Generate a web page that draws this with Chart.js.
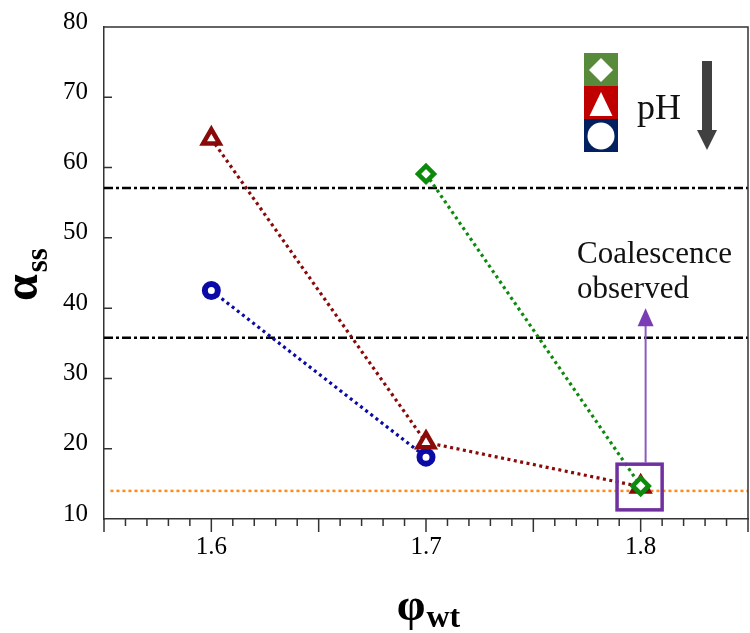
<!DOCTYPE html>
<html>
<head>
<meta charset="utf-8">
<script src="https://cdn.jsdelivr.net/npm/chart.js@4/dist/chart.umd.min.js"></script>
<style>
  html, body { margin: 0; padding: 0; background: #fff; }
  canvas { display: block; }
</style>
</head>
<body>
<canvas id="chart" width="750" height="633"></canvas>
<script>
// Weight fraction of the dispersed phase and the resulting alpha_ss for three pH levels
const phiWt = [1.6, 1.7, 1.8];
const alphaHighPH = [null, 59.1, 14.7];
const alphaMidPH = [64.1, 20.9, 14.6];
const alphaLowPH = [42.5, 18.8, null];

// Axis ticks
const phiTickLabels = [1.6, 1.7, 1.8];
const phiRange = [1.55, 1.85];
const alphaRange = [10, 80];
const alphaStep = 10;

// Horizontal reference levels
const levelUpper = 57.1;
const levelLower = 35.8;
const levelFloor = 14.0;

// Note text
const noteLines = ['Coalescence', 'observed'];

const SERIF = '"Liberation Serif", "Times New Roman", serif';
const GREEN = '#0c8a0c';
const RED = '#8a0a0a';
const BLUE = '#0a0aa6';
const AXIS = '#333333';
const PURPLE = '#7030a0';

const toPoints = ys => phiWt
  .map((x, i) => ({ x: x, y: ys[i] }))
  .filter(p => p.y !== null);

const series = (data, color, style, radius, bw, order) => ({
  data: toPoints(data),
  showLine: true,
  borderColor: color,
  borderWidth: 3.2,
  borderDash: [3, 3.5],
  pointStyle: style,
  pointRadius: radius,
  pointBorderWidth: bw,
  pointBorderColor: color,
  pointBackgroundColor: '#ffffff',
  order: order
});

const level = (y, color, dash, width, x0) => ({
  data: [{ x: x0, y: y }, { x: phiRange[1], y: y }],
  showLine: true,
  borderColor: color,
  borderWidth: width,
  borderDash: dash,
  pointRadius: 0,
  order: 10
});

// keep the plot frame fixed regardless of label overhang
const fixPadding = s => {
  s.paddingLeft = 0;
  s.paddingRight = 0;
  s.paddingTop = 0;
  s.paddingBottom = 0;
};

// Frame, tick marks, annotation, pH key and axis titles
const decorations = {
  id: 'decorations',
  afterDraw(chart) {
    const ctx = chart.ctx;
    const xs = chart.scales.x;
    const ys = chart.scales.y;
    const area = chart.chartArea;
    ctx.save();

    // top and right edges of the frame
    ctx.strokeStyle = AXIS;
    ctx.lineWidth = 1.5;
    ctx.beginPath();
    ctx.moveTo(area.left, area.top);
    ctx.lineTo(area.right, area.top);
    ctx.lineTo(area.right, area.bottom);
    ctx.stroke();

    // x tick marks: long at every 0.05, short at every 0.01
    ctx.beginPath();
    xs.ticks.forEach(t => {
      const px = xs.getPixelForValue(t.value);
      const major = Math.round(t.value * 100) % 5 === 0;
      ctx.moveTo(px, area.bottom);
      ctx.lineTo(px, area.bottom + (major ? 13 : 7));
    });
    // y tick marks point inward
    ys.ticks.forEach(t => {
      if (t.value <= alphaRange[0] || t.value >= alphaRange[1]) return;
      const py = ys.getPixelForValue(t.value);
      ctx.moveTo(area.left, py);
      ctx.lineTo(area.left + 8, py);
    });
    ctx.stroke();

    // box around the coalescing sample and the arrow up to the note
    const bx0 = xs.getPixelForValue(1.789), bx1 = xs.getPixelForValue(1.810);
    const by0 = ys.getPixelForValue(17.8), by1 = ys.getPixelForValue(11.3);
    ctx.strokeStyle = PURPLE;
    ctx.lineWidth = 3.5;
    ctx.strokeRect(bx0, by0, bx1 - bx0, by1 - by0);

    const ax = xs.getPixelForValue(1.8023);
    const tip = ys.getPixelForValue(40.0);
    ctx.strokeStyle = '#8a5cc0';
    ctx.lineWidth = 2;
    ctx.beginPath();
    ctx.moveTo(ax, by0 - 1.5);
    ctx.lineTo(ax, tip + 14);
    ctx.stroke();
    ctx.fillStyle = '#7a3db5';
    ctx.beginPath();
    ctx.moveTo(ax, tip);
    ctx.lineTo(ax + 8, tip + 18);
    ctx.lineTo(ax - 8, tip + 18);
    ctx.closePath();
    ctx.fill();

    ctx.fillStyle = '#111';
    ctx.font = '31px ' + SERIF;
    ctx.textAlign = 'left';
    ctx.textBaseline = 'alphabetic';
    ctx.fillText(noteLines[0], 577, 263);
    ctx.fillText(noteLines[1], 577, 298);

    // pH key: stacked swatches with the marker shapes in white
    const kx = 584, kw = 34;
    const sw = [['#578a3a', 53], ['#c00000', 86], ['#002060', 119]];
    sw.forEach(([c, y]) => { ctx.fillStyle = c; ctx.fillRect(kx, y, kw, 33); });
    const cx = kx + kw / 2;
    ctx.fillStyle = '#ffffff';
    ctx.beginPath();
    ctx.moveTo(cx, 58); ctx.lineTo(cx + 12, 70); ctx.lineTo(cx, 82); ctx.lineTo(cx - 12, 70);
    ctx.closePath(); ctx.fill();
    ctx.beginPath();
    ctx.moveTo(cx, 92); ctx.lineTo(cx + 11.5, 116); ctx.lineTo(cx - 11.5, 116);
    ctx.closePath(); ctx.fill();
    ctx.beginPath();
    ctx.arc(cx, 136, 13.5, 0, Math.PI * 2);
    ctx.fill();

    ctx.fillStyle = '#111';
    ctx.font = '36px ' + SERIF;
    ctx.fillText('pH', 637, 119);

    // downward arrow next to the key
    ctx.fillStyle = '#404040';
    ctx.fillRect(702, 61, 10, 70);
    ctx.beginPath();
    ctx.moveTo(697, 130); ctx.lineTo(717, 130); ctx.lineTo(707, 150);
    ctx.closePath(); ctx.fill();

    // x axis title
    ctx.fillStyle = '#000';
    ctx.font = 'bold 46px ' + SERIF;
    const phiW = ctx.measureText('φ').width;
    ctx.font = 'bold 32px ' + SERIF;
    const wtW = ctx.measureText('wt').width;
    const tx = (area.left + area.right) / 2 - (phiW + wtW) / 2 + 2;
    ctx.font = 'bold 46px ' + SERIF;
    ctx.fillText('φ', tx, 620);
    ctx.font = 'bold 32px ' + SERIF;
    ctx.fillText('wt', tx + phiW + 1, 627);

    // y axis title, reading upward
    ctx.translate(37, 301);
    ctx.rotate(-Math.PI / 2);
    ctx.font = 'bold 48px ' + SERIF;
    const aW = ctx.measureText('α').width;
    ctx.fillText('α', 0, 0);
    ctx.font = 'bold 31px ' + SERIF;
    ctx.fillText('ss', aW + 2, 10);

    ctx.restore();
  }
};

new Chart(document.getElementById('chart'), {
  type: 'scatter',
  data: {
    datasets: [
      series(alphaHighPH, GREEN, 'rectRot', 8, 4.5, 0),
      series(alphaMidPH, RED, 'triangle', 9.5, 4.5, 1),
      series(alphaLowPH, BLUE, 'circle', 6.5, 6, 2),
      level(levelUpper, '#000000', [9, 3, 3, 3], 2.5, phiRange[0]),
      level(levelLower, '#000000', [9, 3, 3, 3], 2.5, phiRange[0]),
      level(levelFloor, '#ff8a1c', [3, 3], 2.5, 1.553)
    ]
  },
  options: {
    responsive: false,
    animation: false,
    devicePixelRatio: 1,
    layout: { autoPadding: false, padding: { top: 27, right: 2, left: 0, bottom: 0 } },
    plugins: {
      legend: { display: false },
      tooltip: { enabled: false }
    },
    scales: {
      x: {
        type: 'linear',
        min: phiRange[0],
        max: phiRange[1],
        afterFit: s => { s.height = 114; fixPadding(s); },
        grid: { display: false, drawTicks: false },
        border: { display: true, color: AXIS, width: 1.5 },
        ticks: {
          stepSize: 0.01,
          autoSkip: false,
          maxRotation: 0,
          padding: 13,
          color: '#000',
          font: { family: SERIF, size: 25 },
          callback: v => {
            const hit = phiTickLabels.find(l => Math.abs(l - v) < 1e-6);
            return hit !== undefined ? hit.toFixed(1) : '';
          }
        }
      },
      y: {
        min: alphaRange[0],
        max: alphaRange[1],
        afterFit: s => { s.width = 104; fixPadding(s); },
        grid: { display: false, drawTicks: false },
        border: { display: true, color: AXIS, width: 1.5 },
        ticks: {
          stepSize: alphaStep,
          padding: 16,
          labelOffset: -5,
          color: '#000',
          font: { family: SERIF, size: 25 }
        }
      }
    }
  },
  plugins: [decorations]
});
</script>
</body>
</html>
